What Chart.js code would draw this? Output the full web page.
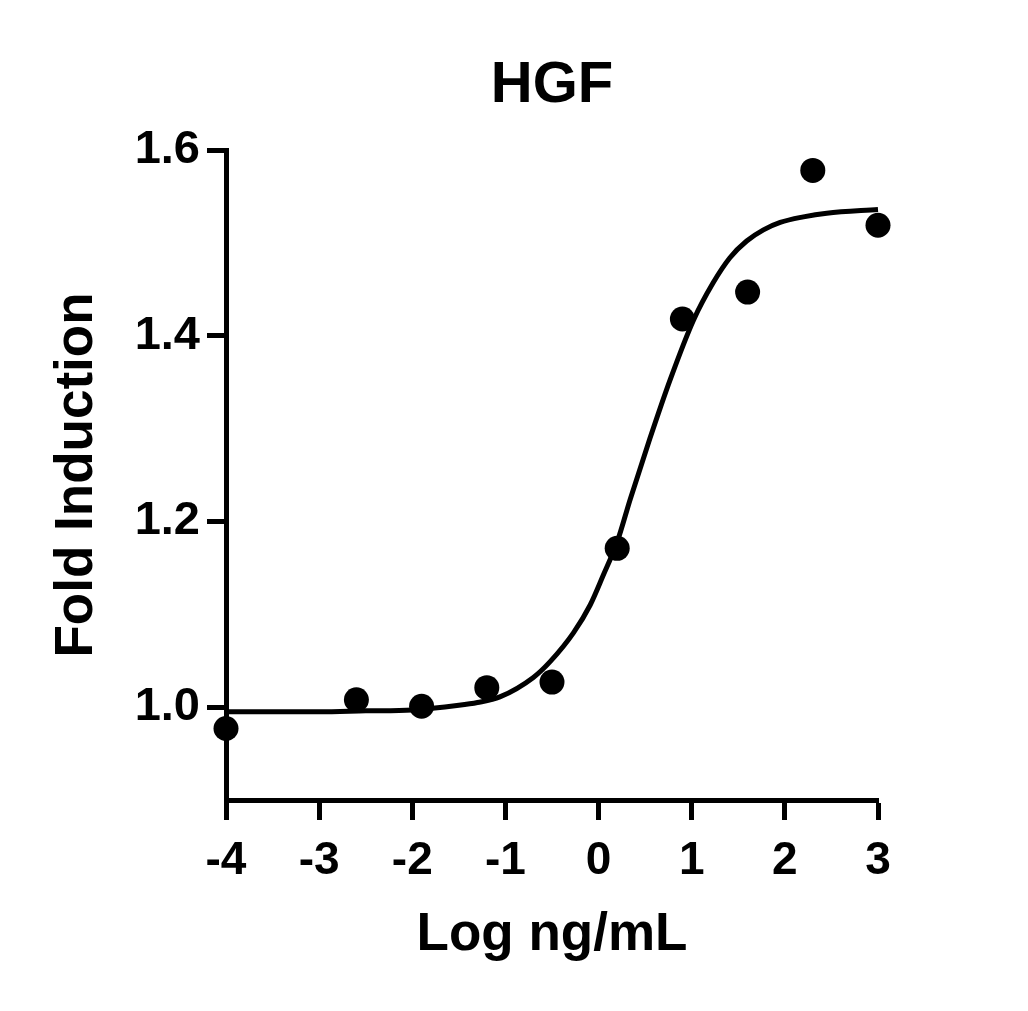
<!DOCTYPE html>
<html>
<head>
<meta charset="utf-8">
<script src="https://cdn.jsdelivr.net/npm/chart.js@4/dist/chart.umd.min.js"></script>
<style>
  html, body { margin: 0; padding: 0; background: #ffffff; }
  #wrap { width: 1028px; height: 1011px; }
</style>
</head>
<body>
<div id="wrap"><canvas id="c" width="1028" height="1011"></canvas></div>
<script>
// ---- data ----
const chartTitle = "HGF";
const xAxisTitle = "Log ng/mL";
const yAxisTitle = "Fold Induction";

const doseLog = [-4, -2.6, -1.9, -1.2, -0.5, 0.2, 0.9, 1.6, 2.3, 3.0];
const foldInduction = [0.977, 1.008, 1.001, 1.021, 1.027, 1.171, 1.418, 1.447, 1.578, 1.519];

const fitX = [-4, -3, -2.5, -2, -1.5, -1.3, -1.06, -0.7, -0.52, -0.27, -0.09, 0.05, 0.2, 0.34, 0.55, 0.77, 1.02, 1.23, 1.41, 1.59, 1.77, 1.95, 2.2, 2.45, 3.0];
const fitY = [0.995, 0.995, 0.996, 0.997, 1.002, 1.005, 1.011, 1.032, 1.049, 1.080, 1.110, 1.142, 1.178, 1.224, 1.289, 1.353, 1.417, 1.457, 1.484, 1.502, 1.514, 1.522, 1.528, 1.532, 1.536];

const yTickValues = [1.0, 1.2, 1.4, 1.6];
const xTickValues = [-4, -3, -2, -1, 0, 1, 2, 3];

const FONT = "'Liberation Sans', Arial, Helvetica, sans-serif";

const pointData = doseLog.map((x, i) => ({ x: x, y: foldInduction[i] }));
const fitData = fitX.map((x, i) => ({ x: x, y: fitY[i] }));

new Chart(document.getElementById('c'), {
  type: 'scatter',
  data: {
    datasets: [
      {
        label: 'fit',
        data: fitData,
        showLine: true,
        borderColor: '#000',
        borderWidth: 5,
        pointRadius: 0,
        cubicInterpolationMode: 'monotone',
        fill: false,
        clip: false,
        order: 2
      },
      {
        label: 'HGF',
        data: pointData,
        showLine: false,
        pointRadius: 12.5,
        pointBackgroundColor: '#000',
        pointBorderColor: '#000',
        pointBorderWidth: 0,
        clip: false,
        order: 1
      }
    ]
  },
  options: {
    responsive: false,
    devicePixelRatio: 1,
    animation: false,
    layout: { padding: { left: 0, right: 150, top: 150, bottom: 0 } },
    plugins: {
      legend: { display: false },
      tooltip: { enabled: false },
      title: { display: false }
    },
    scales: {
      x: {
        type: 'linear',
        min: -4,
        max: 3,
        afterFit: (s) => { s.height = 211; },
        afterBuildTicks: (s) => { s.ticks = xTickValues.map(v => ({ value: v })); },
        border: { display: true, color: '#000', width: 5 },
        grid: { display: true, drawOnChartArea: false, drawTicks: true, tickLength: 20, tickWidth: 5, tickColor: '#000' },
        ticks: {
          color: '#000',
          padding: 14,
          font: { family: FONT, size: 46, weight: 'bold', lineHeight: 1.2 },
          maxRotation: 0,
          autoSkip: false,
          callback: (v) => String(v)
        },
        title: {
          display: true,
          text: xAxisTitle,
          color: '#000',
          font: { family: FONT, size: 53, weight: 'bold', lineHeight: 1.2 },
          padding: { top: 0, bottom: 44 }
        }
      },
      y: {
        type: 'linear',
        min: 0.9,
        max: 1.6,
        afterFit: (s) => { s.width = 226; },
        afterBuildTicks: (s) => { s.ticks = yTickValues.map(v => ({ value: v })); },
        border: { display: true, color: '#000', width: 5 },
        grid: { display: true, drawOnChartArea: false, drawTicks: true, tickLength: 19, tickWidth: 5, tickColor: '#000' },
        ticks: {
          color: '#000',
          padding: 7,
          font: { family: FONT, size: 47, weight: 'bold', lineHeight: 1.2 },
          autoSkip: false,
          callback: (v) => Number(v).toFixed(1)
        },
        title: {
          display: true,
          text: yAxisTitle,
          color: '#000',
          font: { family: FONT, size: 53, weight: 'bold', lineHeight: 1.2 },
          padding: { top: 46, bottom: 0 }
        }
      }
    }
  },
  plugins: [{
    id: 'whiteBgAndTitle',
    beforeDraw: (chart) => {
      const ctx = chart.ctx;
      ctx.save();
      ctx.fillStyle = '#fff';
      ctx.fillRect(0, 0, chart.width, chart.height);
      ctx.restore();
    },
    afterDraw: (chart) => {
      const ctx = chart.ctx;
      const a = chart.chartArea;
      ctx.save();
      ctx.fillStyle = '#000';
      ctx.font = "bold 58px " + FONT;
      ctx.textAlign = 'center';
      ctx.textBaseline = 'middle';
      ctx.fillText(chartTitle, (a.left + a.right) / 2, 86);
      ctx.restore();
    }
  }]
});
</script>
</body>
</html>
